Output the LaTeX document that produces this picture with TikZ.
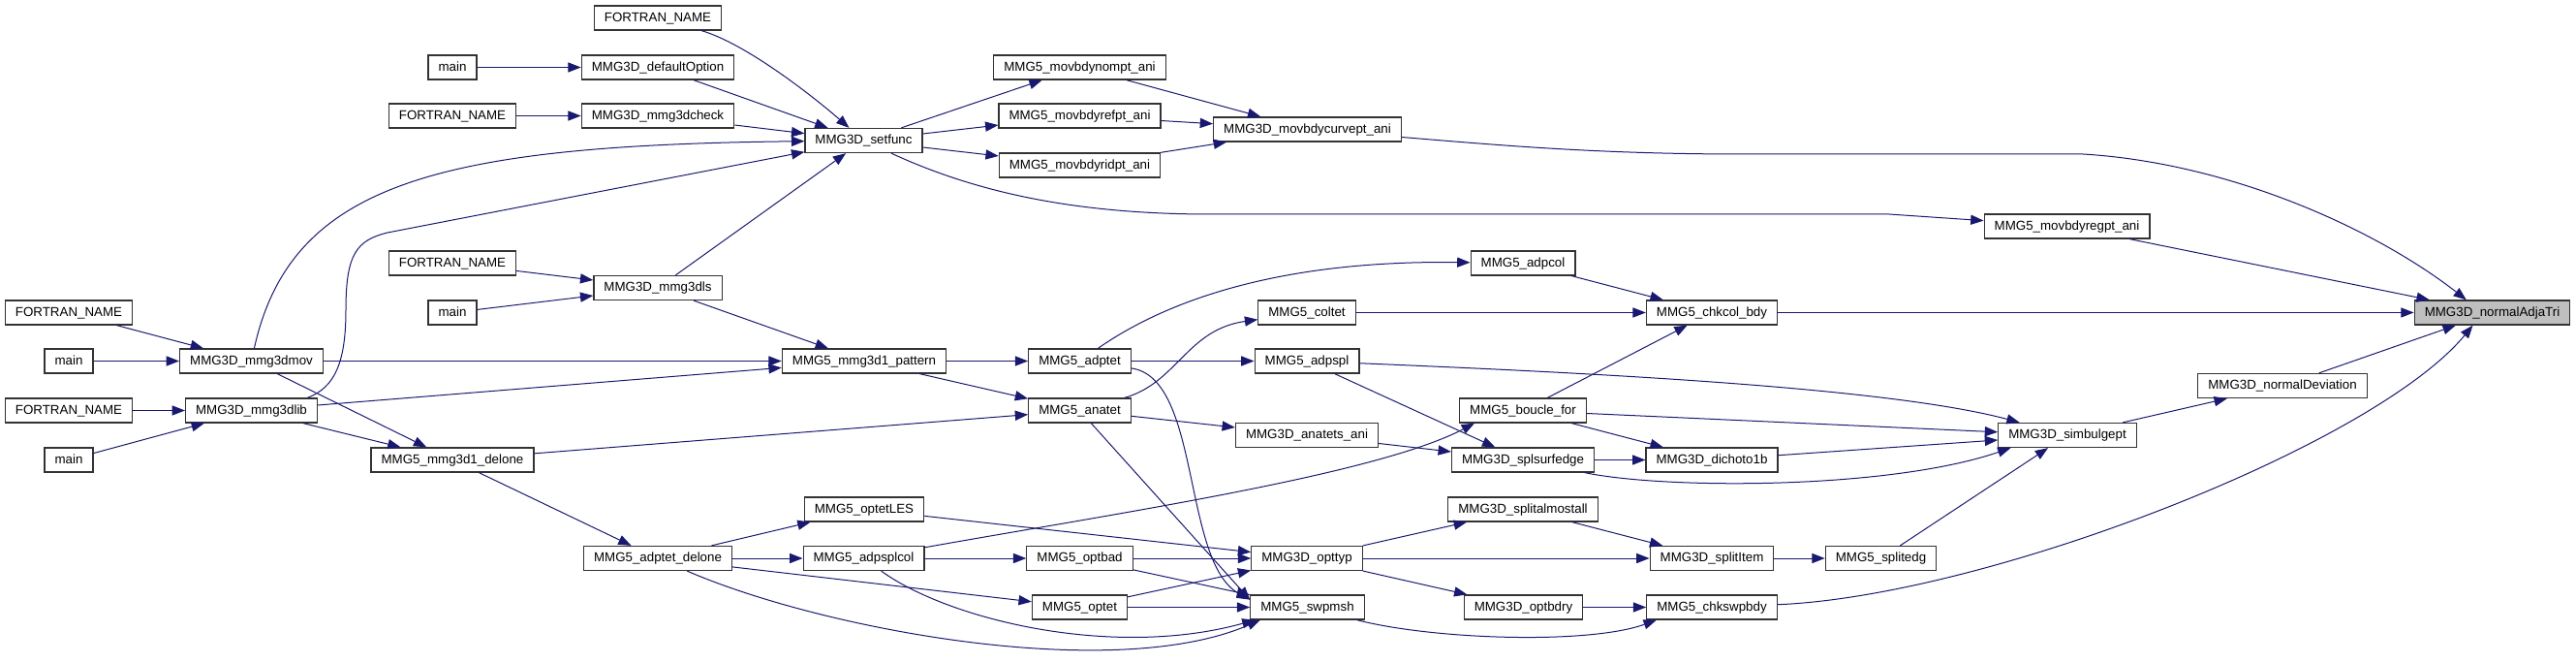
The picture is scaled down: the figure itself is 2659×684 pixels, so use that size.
\documentclass[tikz,border=0pt]{standalone}
\usepackage{fontspec}
\setmainfont{Liberation Sans}
\usetikzlibrary{arrows.meta}
\definecolor{edgeblue}{HTML}{191970}
\definecolor{rootgrey}{HTML}{BFBFBF}
\begin{document}
\begin{tikzpicture}[x=0.75pt,y=-0.75pt,>={Triangle[length=10pt,width=7.6pt]},
  func/.style={draw=black!80,line width=0.9pt,inner xsep=7.9pt,inner ysep=2pt,
    minimum height=18.8pt,text height=7.4pt,text depth=2.1pt,font=\fontsize{10}{12}\selectfont},
  ln/.style={->,draw=edgeblue,fill=none,line width=0.75pt}]
\useasboundingbox (0,0) rectangle (2659,684);

\node[func](A1) at (71,322.5){FORTRAN\_NAME};
\node[func](A2) at (71,372.5){main};
\node[func](A3) at (71,423.5){FORTRAN\_NAME};
\node[func](A4) at (71,474.5){main};

\node[func](B1) at (259.5,372.5){MMG3D\_mmg3dmov};
\node[func](B2) at (259.5,423.5){MMG3D\_mmg3dlib};

\node[func](C1) at (467,69.5){main};
\node[func](C2) at (467,119.5){FORTRAN\_NAME};
\node[func](C3) at (467,271.5){FORTRAN\_NAME};
\node[func](C4) at (467,322.5){main};
\node[func](C5) at (467,474.5){MMG5\_mmg3d1\_delone};

\node[func](D1) at (679,18.5){FORTRAN\_NAME};
\node[func](D2) at (679,69.5){MMG3D\_defaultOption};
\node[func](D3) at (679,119.5){MMG3D\_mmg3dcheck};
\node[func](D4) at (679,297){MMG3D\_mmg3dls};
\node[func](D5) at (679,576){MMG5\_adptet\_delone};

\node[func](E1) at (891.5,145){MMG3D\_setfunc};
\node[func](E2) at (892,372.5){MMG5\_mmg3d1\_pattern};
\node[func](E3) at (892,525.5){MMG5\_optetLES};
\node[func](E4) at (891.5,576){MMG5\_adpsplcol};

\node[func](F1) at (1114.5,69.5){MMG5\_movbdynompt\_ani};
\node[func](F2) at (1114.5,119.5){MMG5\_movbdyrefpt\_ani};
\node[func](F3) at (1114.5,170.5){MMG5\_movbdyridpt\_ani};
\node[func](F4) at (1114.5,372.5){MMG5\_adptet};
\node[func](F5) at (1114.5,423.5){MMG5\_anatet};
\node[func](F6) at (1114.5,576){MMG5\_optbad};
\node[func](F7) at (1114.5,626.5){MMG5\_optet};

\node[func](G1) at (1349.5,133.5){MMG3D\_movbdycurvept\_ani};
\node[func](G2) at (1349,322.5){MMG5\_coltet};
\node[func](G3) at (1349,372.5){MMG5\_adpspl};
\node[func](G4) at (1349,449){MMG3D\_anatets\_ani};
\node[func](G5) at (1349,576){MMG3D\_opttyp};
\node[func](G6) at (1349.5,626.5){MMG5\_swpmsh};

\node[func](H1) at (1572,271.5){MMG5\_adpcol};
\node[func](H2) at (1572,423.5){MMG5\_boucle\_for};
\node[func](H3) at (1572,474.5){MMG3D\_splsurfedge};
\node[func](H4) at (1572,525.5){MMG3D\_splitalmostall};
\node[func](H5) at (1572.5,626.5){MMG3D\_optbdry};

\node[func](I1) at (1767,322.5){MMG5\_chkcol\_bdy};
\node[func](I2) at (1767,474.5){MMG3D\_dichoto1b};
\node[func](I3) at (1767,576){MMG3D\_splitItem};
\node[func](I4) at (1767,626.5){MMG5\_chkswpbdy};

\node[func](J1) at (2133.5,233.5){MMG5\_movbdyregpt\_ani};
\node[func](J2) at (2134,449){MMG3D\_simbulgept};
\node[func](J3) at (1941.5,576){MMG5\_splitedg};

\node[func](K1) at (2356,398){MMG3D\_normalDeviation};
\node[func,fill=rootgrey](R) at (2572.5,322.5){MMG3D\_normalAdjaTri};

\draw[ln](A1)--(B1);
\draw[ln](A2)--(B1);
\draw[ln](A3)--(B2);
\draw[ln](A4)--(B2);

\draw[ln](B1) .. controls (300,190) and (450,150) .. (E1);
\draw[ln]([xshift=-8pt]B2.north east) .. controls (345,400) and (357,375) .. (357,320)
  .. controls (357,262) and (368,248) .. (400,240) -- (E1);
\draw[ln](B1)--(E2);
\draw[ln](B1)--(C5);
\draw[ln](B2)--(E2);
\draw[ln](B2)--(C5);

\draw[ln](C1)--(D2);
\draw[ln](C2)--(D3);
\draw[ln](C3)--(D4);
\draw[ln](C4)--(D4);
\draw[ln](C5)--(D5);
\draw[ln](C5)--(F5);

\draw[ln](D1) .. controls (770,45) and (840,100) .. (E1);
\draw[ln](D2)--(E1);
\draw[ln](D3)--(E1);
\draw[ln](D4)--(E1);
\draw[ln](D4)--(E2);
\draw[ln](D5)--(E3);
\draw[ln](D5)--(E4);
\draw[ln](D5)--(F7);
\draw[ln](D5) .. controls (850,650) and (1150,705) .. ([xshift=8pt]G6.south west);

\draw[ln](E1)--(F1);
\draw[ln](E1)--(F2);
\draw[ln](E1)--(F3);
\draw[ln](E1) .. controls (1000,195) and (1100,221) .. (1250,221) -- (1950,221) -- (J1);
\draw[ln](E2)--(F4);
\draw[ln](E2)--(F5);
\draw[ln](E3)--(G5);
\draw[ln](E4)--(F6);
\draw[ln](E4) .. controls (980,640) and (1150,680) .. ([xshift=4pt]G6.south west);
\draw[ln](E4) .. controls (1150,530) and (1420,490) .. ([xshift=12pt]H2.south west);

\draw[ln](F1)--(G1);
\draw[ln](F2)--(G1);
\draw[ln](F3)--(G1);
\draw[ln](F4) .. controls (1190,320) and (1300,268) .. (H1);
\draw[ln](F4)--(G3);
\draw[ln](F4) .. controls (1240,390) and (1220,580) .. ([yshift=-4pt]G6.north west);
\draw[ln](F5) .. controls (1215,395) and (1225,340) .. (G2);
\draw[ln](F5)--(G4);
\draw[ln](F5)--([yshift=-4pt]G6.north west);
\draw[ln](F6)--(G5);
\draw[ln](F6)--(G6);
\draw[ln](F7)--(G5);
\draw[ln](F7)--(G6);

\draw[ln](G1) .. controls (1550,150) and (1650,159) .. (1800,159) -- (2150,159)
  .. controls (2300,168) and (2450,235) .. ([xshift=-20pt]R.north);
\draw[ln](G2)--(I1);
\draw[ln](G3) .. controls (1650,385) and (1950,400) .. (J2);
\draw[ln](G3)--(H3);
\draw[ln](G4)--(H3);
\draw[ln](G5)--(H4);
\draw[ln](G5)--(I3);
\draw[ln](G5)--(H5);
\draw[ln](G6) .. controls (1480,660) and (1640,665) .. ([xshift=8pt]I4.south west);

\draw[ln](H1)--(I1);
\draw[ln](H2)--(I1);
\draw[ln](H2)--(J2);
\draw[ln](H2)--(I2);
\draw[ln](H3)--(I2);
\draw[ln](H3) .. controls (1720,505) and (1950,505) .. ([xshift=10pt]J2.south west);
\draw[ln](H4)--(I3);
\draw[ln](H5)--(I4);

\draw[ln](I1)--(R);
\draw[ln](I2)--(J2);
\draw[ln](I3)--(J3);
\draw[ln](I4) .. controls (2050,615) and (2450,460) .. ([xshift=-15pt]R.south);

\draw[ln](J1)--(R);
\draw[ln](J2)--(K1);
\draw[ln](J3)--(J2);
\draw[ln](K1)--(R);
\end{tikzpicture}
\end{document}
